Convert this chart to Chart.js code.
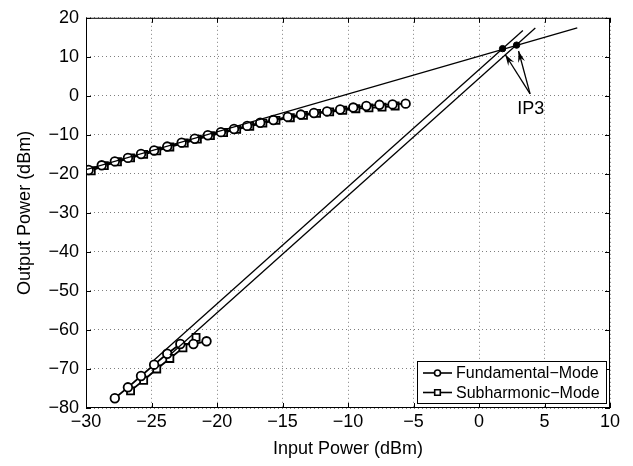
<!DOCTYPE html>
<html>
<head>
<meta charset="utf-8">
<script src="https://cdn.jsdelivr.net/npm/chart.js@4.4.0/dist/chart.umd.min.js"></script>
<style>
  html, body { margin: 0; padding: 0; background: #fff; }
  #wrap { width: 633px; height: 466px; }
</style>
</head>
<body>
<div id="wrap"><canvas id="ip3Chart"></canvas></div>
<script>
const fundHighX = [-29.8, -28.8, -27.8, -26.8, -25.8, -24.8, -23.8, -22.7, -21.7, -20.7, -19.7, -18.7, -17.7, -16.7, -15.7, -14.6, -13.6, -12.6, -11.6, -10.6, -9.6, -8.6, -7.6, -6.6, -5.6];
const fundHighY = [-19.0, -17.8, -16.8, -15.9, -14.9, -14.0, -13.0, -12.0, -11.0, -10.1, -9.3, -8.5, -7.7, -6.9, -6.2, -5.4, -4.8, -4.4, -4.0, -3.5, -3.0, -2.6, -2.3, -2.2, -2.0];
const subHighX = [-29.6, -28.6, -27.6, -26.6, -25.6, -24.6, -23.6, -22.5, -21.5, -20.5, -19.5, -18.5, -17.5, -16.5, -15.5, -14.4, -13.4, -12.4, -11.4, -10.4, -9.4, -8.4, -7.4, -6.4];
const subHighY = [-19.2, -17.9, -16.9, -15.9, -15.0, -14.1, -13.1, -12.1, -11.1, -10.2, -9.4, -8.6, -7.8, -7.0, -6.3, -5.6, -5.0, -4.5, -4.1, -3.7, -3.3, -3.1, -2.9, -2.6];

const fundLowX = [-27.8, -26.8, -25.8, -24.8, -23.8, -22.8, -21.8, -20.8];
const fundLowY = [-77.5, -74.7, -71.8, -68.9, -66.1, -63.6, -63.6, -62.9];
const subLowX = [-26.6, -25.6, -24.6, -23.6, -22.6, -21.6];
const subLowY = [-75.6, -72.9, -70.0, -67.3, -64.6, -61.9];

// extrapolated fit lines (end points)
const fitSteepAX = [-24.8, 3.35];
const fitSteepAY = [-67.7, 16.75];
const fitSteepBX = [-23.6, 4.3];
const fitSteepBY = [-66.4, 17.4];
const fitShallowX = [-30, 7.5];
const fitShallowY = [-18.9, 17.4];

// intercept points
const ip3X = [1.8, 2.87];
const ip3Y = [12.1, 13.0];
const ip3LabelPos = [3.95, -3.3];
const ip3ArrowTail = [3.9, 0.5];
const ip3ArrowHeads = [[2.0, 10.6], [3.02, 11.5]];

const legendNames = ["Fundamental\u2212Mode", "Subharmonic\u2212Mode"];

function pts(xs, ys) {
  return xs.map((x, i) => ({ x: x, y: ys[i] }));
}

function minusLabel(v) {
  return v < 0 ? "\u2212" + Math.abs(v) : String(v);
}

const FONT = "'Liberation Sans', Arial, sans-serif";

const seriesStyle = {
  borderColor: "#000",
  backgroundColor: "#fff",
  borderWidth: 1.8,
  pointBorderWidth: 1.8,
  pointBackgroundColor: "#fff",
  pointBorderColor: "#000",
  showLine: true,
  tension: 0,
};

const fitStyle = {
  borderColor: "#000",
  borderWidth: 1.3,
  pointRadius: 0,
  showLine: true,
  tension: 0,
};

// box with inward ticks on all four sides, like the original
const boxPlugin = {
  id: "box",
  afterDraw(chart) {
    const { ctx, chartArea: a, scales } = chart;
    ctx.save();
    ctx.strokeStyle = "#000";
    ctx.lineWidth = 1;
    ctx.strokeRect(a.left + 0.5, a.top + 0.5, a.right - a.left - 1, a.bottom - a.top - 1);
    const tl = 5;
    ctx.beginPath();
    scales.x.ticks.forEach((t) => {
      const px = Math.round(scales.x.getPixelForValue(t.value)) + 0.5;
      ctx.moveTo(px, a.bottom); ctx.lineTo(px, a.bottom - tl);
      ctx.moveTo(px, a.top); ctx.lineTo(px, a.top + tl);
    });
    scales.y.ticks.forEach((t) => {
      const py = Math.round(scales.y.getPixelForValue(t.value)) + 0.5;
      ctx.moveTo(a.left, py); ctx.lineTo(a.left + tl, py);
      ctx.moveTo(a.right, py); ctx.lineTo(a.right - tl, py);
    });
    ctx.stroke();
    ctx.restore();
  },
};

// IP3 label and arrows
const annotPlugin = {
  id: "annot",
  afterDatasetsDraw(chart) {
    const { ctx, scales } = chart;
    const X = (v) => scales.x.getPixelForValue(v);
    const Y = (v) => scales.y.getPixelForValue(v);
    ctx.save();
    ctx.strokeStyle = "#000";
    ctx.fillStyle = "#000";
    ctx.lineWidth = 1.3;
    const tx = X(ip3ArrowTail[0]), ty = Y(ip3ArrowTail[1]);
    ip3ArrowHeads.forEach(([hx0, hy0]) => {
      const hx = X(hx0), hy = Y(hy0);
      ctx.beginPath();
      ctx.moveTo(tx, ty);
      ctx.lineTo(hx, hy);
      ctx.stroke();
      const ang = Math.atan2(hy - ty, hx - tx);
      const len = 12, wid = 0.3;
      ctx.beginPath();
      ctx.moveTo(hx, hy);
      ctx.lineTo(hx - len * Math.cos(ang - wid), hy - len * Math.sin(ang - wid));
      ctx.lineTo(hx - len * 0.6 * Math.cos(ang), hy - len * 0.6 * Math.sin(ang));
      ctx.lineTo(hx - len * Math.cos(ang + wid), hy - len * Math.sin(ang + wid));
      ctx.closePath();
      ctx.fill();
    });
    ctx.font = "18px " + FONT;
    ctx.textAlign = "center";
    ctx.textBaseline = "middle";
    ctx.fillText("IP3", X(ip3LabelPos[0]), Y(ip3LabelPos[1]));
    ctx.restore();
  },
};

// legend box in the lower right corner
const legendPlugin = {
  id: "legendBox",
  afterDraw(chart) {
    const { ctx, chartArea: a } = chart;
    const w = 189, h = 42;
    const x0 = a.right - 4 - w, y0 = a.bottom - 5 - h;
    ctx.save();
    ctx.fillStyle = "#fff";
    ctx.fillRect(x0, y0, w, h);
    ctx.strokeStyle = "#000";
    ctx.lineWidth = 1;
    ctx.strokeRect(x0 + 0.5, y0 + 0.5, w, h);
    ctx.font = "16px " + FONT;
    ctx.textBaseline = "middle";
    ctx.textAlign = "left";
    legendNames.forEach((name, i) => {
      const cy = y0 + 12 + i * 19.5;
      ctx.beginPath();
      ctx.lineWidth = 1.6;
      ctx.moveTo(x0 + 6, cy);
      ctx.lineTo(x0 + 35, cy);
      ctx.stroke();
      const mx = x0 + 20.5;
      ctx.fillStyle = "#fff";
      ctx.beginPath();
      if (i === 0) {
        ctx.arc(mx, cy, 3, 0, Math.PI * 2);
      } else {
        ctx.rect(mx - 2.8, cy - 2.8, 5.6, 5.6);
      }
      ctx.fill();
      ctx.stroke();
      ctx.fillStyle = "#000";
      ctx.fillText(name, x0 + 39, cy + 1);
    });
    ctx.restore();
  },
};

const ctx = document.getElementById("ip3Chart").getContext("2d");

new Chart(ctx, {
  type: "scatter",
  data: {
    datasets: [
      { ...fitStyle, data: pts(fitShallowX, fitShallowY) },
      { ...fitStyle, data: pts(fitSteepAX, fitSteepAY) },
      { ...fitStyle, data: pts(fitSteepBX, fitSteepBY) },
      { ...seriesStyle, label: legendNames[0], data: pts(fundHighX, fundHighY), pointStyle: "circle", pointRadius: 4.3 },
      { ...seriesStyle, label: legendNames[1], data: pts(subHighX, subHighY), pointStyle: "rect", pointRadius: 5 },
      { ...seriesStyle, data: pts(fundLowX, fundLowY), pointStyle: "circle", pointRadius: 4.3 },
      { ...seriesStyle, data: pts(subLowX, subLowY), pointStyle: "rect", pointRadius: 5 },
      {
        data: pts(ip3X, ip3Y),
        showLine: false,
        pointStyle: "circle",
        pointRadius: 3.2,
        pointBackgroundColor: "#000",
        pointBorderColor: "#000",
      },
    ],
  },
  options: {
    responsive: true,
    maintainAspectRatio: false,
    animation: false,
    layout: { padding: { top: 13, right: 23, left: 0, bottom: 0 } },
    plugins: {
      legend: { display: false },
      tooltip: { enabled: false },
    },
    scales: {
      x: {
        type: "linear",
        min: -30,
        max: 10,
        afterFit: (scale) => { scale.height = 58; },
        ticks: {
          stepSize: 5,
          color: "#000",
          padding: 3,
          font: { family: FONT, size: 18 },
          callback: minusLabel,
        },
        grid: { color: "rgba(0,0,0,0.5)", lineWidth: 1, drawTicks: false },
        border: { display: false, dash: [1, 3] },
        title: {
          display: true,
          text: "Input Power (dBm)",
          color: "#000",
          font: { family: FONT, size: 18 },
          padding: { top: 0, bottom: 6 },
        },
      },
      y: {
        type: "linear",
        min: -80,
        max: 20,
        afterFit: (scale) => { scale.width = 86; },
        ticks: {
          stepSize: 10,
          color: "#000",
          padding: 7,
          font: { family: FONT, size: 18 },
          callback: minusLabel,
        },
        grid: { color: "rgba(0,0,0,0.5)", lineWidth: 1, drawTicks: false },
        border: { display: false, dash: [1, 3] },
        title: {
          display: true,
          text: "Output Power (dBm)",
          color: "#000",
          font: { family: FONT, size: 18 },
          padding: { top: 14, bottom: 0 },
        },
      },
    },
  },
  plugins: [annotPlugin, boxPlugin, legendPlugin],
});
</script>
</body>
</html>
